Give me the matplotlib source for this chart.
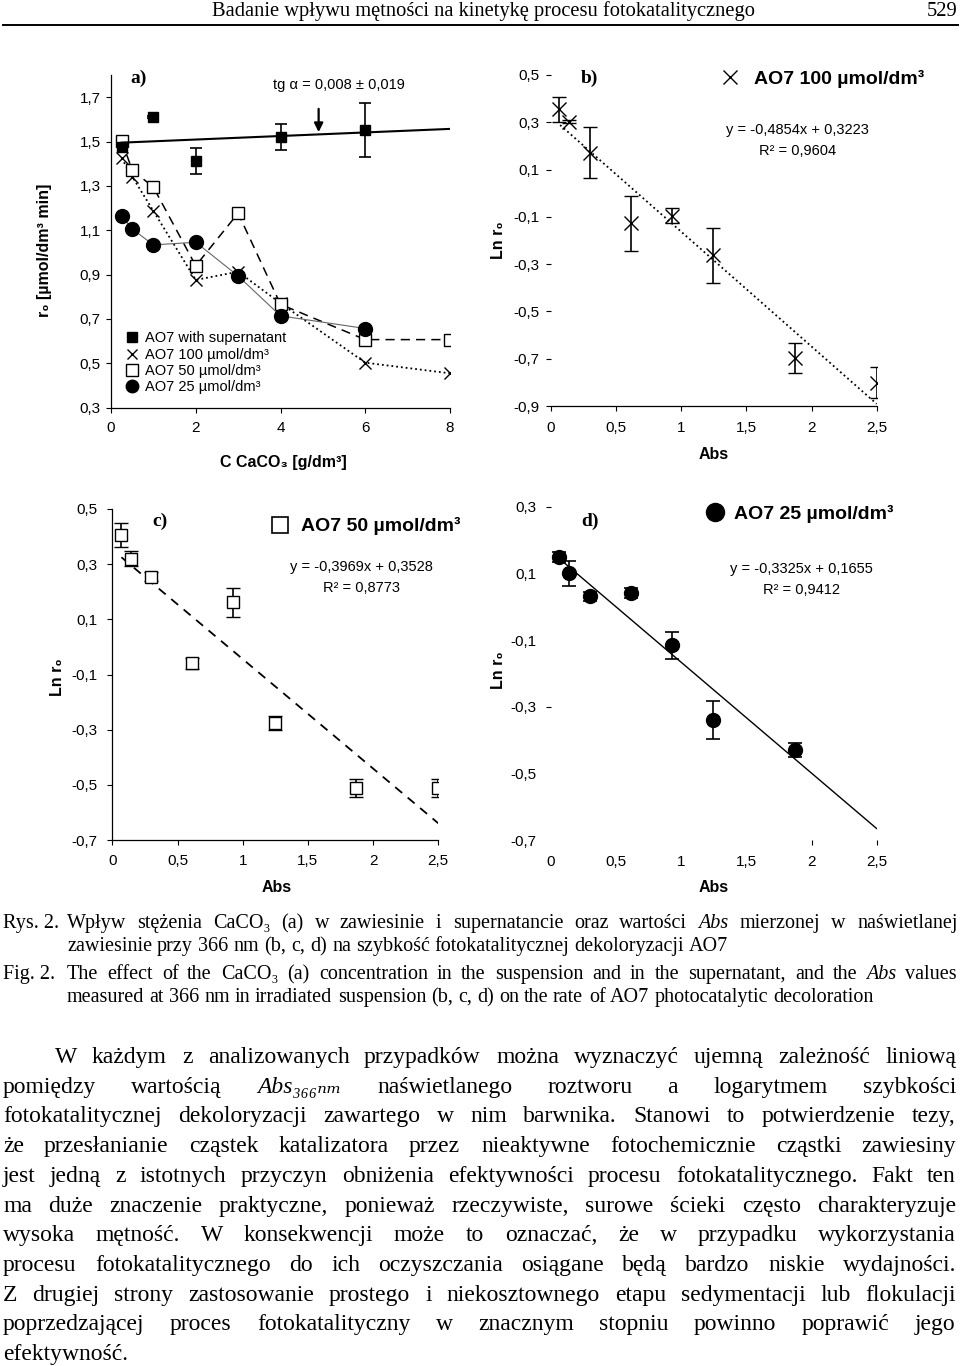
import numpy as np
import matplotlib.pyplot as plt
from matplotlib.lines import Line2D
from matplotlib.ticker import FuncFormatter

W, H = 960, 1366

# ---- panel a: r0 vs CaCO3 concentration ----
c_caco3 = [0.25, 0.5, 1, 2, 3, 4, 6, 8]
r0_100 = [1.425, 1.342, 1.187, 0.876, 0.913, 0.771, 0.503, 0.455]
r0_50 = [1.504, 1.372, 1.294, 0.940, 1.177, 0.766, 0.607, 0.607]
c_caco3_25 = [0.25, 0.5, 1, 2, 3, 4, 6]
r0_25 = [1.165, 1.106, 1.034, 1.046, 0.894, 0.714, 0.657]
c_super = [0.25, 1, 2, 4, 6]
r0_super = [1.477, 1.610, 1.413, 1.520, 1.552]
r0_super_err = [0.0, 0.005, 0.06, 0.06, 0.12]
super_fit = (0.008, 1.493)   # slope, intercept
super_fit_span = (0.25, 8)
arrow_x, arrow_y = 4.9, (1.66, 1.53)

# ---- panels b-d: ln r0 vs Abs ----
abs_vals = [0.065, 0.14, 0.30, 0.615, 0.925, 1.245, 1.87, 2.5]
lnr_b = [0.355, 0.303, 0.172, -0.128, -0.095, -0.262, -0.697, -0.802]
lnr_b_err = [0.052, 0.008, 0.108, 0.115, 0.032, 0.116, 0.062, 0.066]
lnr_c = [0.406, 0.319, 0.255, -0.060, 0.162, -0.276, -0.512, -0.512]
lnr_c_err = [0.043, 0.027, 0.016, 0.020, 0.053, 0.027, 0.033, 0.033]
lnr_d = [0.149, 0.100, 0.031, 0.041, -0.116, -0.340, -0.430]
lnr_d_err = [0.014, 0.038, 0.014, 0.016, 0.041, 0.058, 0.022]
fit_b = (-0.4854, 0.3223, 0.9604)
fit_c = (-0.3969, 0.3528, 0.8773)
fit_d = (-0.3325, 0.1655, 0.9412)
fit_span = (0.07, 2.5)

xticks_a = [0, 2, 4, 6, 8]
yticks_a = np.arange(0.3, 1.71, 0.2)
xticks_abs = np.arange(0, 2.51, 0.5)
yticks_b = np.arange(-0.9, 0.51, 0.2)
yticks_c = np.arange(-0.7, 0.51, 0.2)
yticks_d = np.arange(-0.7, 0.31, 0.2)

header = 'Badanie wpływu mętności na kinetykę procesu fotokatalitycznego'
page_no = '529'
caption = [
    ('Rys. 2.', 'Wpływ stężenia CaCO₃ (a) w zawiesinie i supernatancie oraz wartości *Abs* mierzonej w naświetlanej',
     'zawiesinie przy 366 nm (b, c, d) na szybkość fotokatalitycznej dekoloryzacji AO7'),
    ('Fig. 2.', 'The effect of the CaCO₃ (a) concentration in the suspension and in the supernatant, and the *Abs* values',
     'measured at 366 nm in irradiated suspension (b, c, d) on the rate of AO7 photocatalytic decoloration'),
]
paragraph = [
    'W każdym z analizowanych przypadków można wyznaczyć ujemną zależność liniową',
    'pomiędzy wartością *Abs₃₆₆ₙₘ* naświetlanego roztworu a logarytmem szybkości',
    'fotokatalitycznej dekoloryzacji zawartego w nim barwnika. Stanowi to potwierdzenie tezy,',
    'że przesłanianie cząstek katalizatora przez nieaktywne fotochemicznie cząstki zawiesiny',
    'jest jedną z istotnych przyczyn obniżenia efektywności procesu fotokatalitycznego. Fakt ten',
    'ma duże znaczenie praktyczne, ponieważ rzeczywiste, surowe ścieki często charakteryzuje',
    'wysoka mętność. W konsekwencji może to oznaczać, że w przypadku wykorzystania',
    'procesu fotokatalitycznego do ich oczyszczania osiągane będą bardzo niskie wydajności.',
    'Z drugiej strony zastosowanie prostego i niekosztownego etapu sedymentacji lub flokulacji',
    'poprzedzającej proces fotokatalityczny w znacznym stopniu powinno poprawić jego',
    'efektywność.',
]

plt.rcParams['font.family'] = ['Liberation Sans', 'DejaVu Sans']
serif = ['Liberation Serif', 'DejaVu Serif']

fig = plt.figure(figsize=(W / 100, H / 100), dpi=100)
renderer = fig.canvas.get_renderer()


def fx(x):
    return x / W


def fy(y):
    return 1 - y / H


def add_panel(l, t, r, b):
    return fig.add_axes([l / W, 1 - b / H, (r - l) / W, (b - t) / H])


comma = FuncFormatter(lambda v, p: f'{v:g}'.replace('.', ','))


def make_words(line, base, size):
    arts = []
    for w in line.split(' '):
        it = w.startswith('*')
        arts.append(fig.text(0, fy(base), w.strip('*'), fontsize=size, family=serif,
                             style='italic' if it else 'normal', va='baseline', ha='left'))
    return arts


def fit_size(lines, x0s, x1, size):
    # largest common size at which every line fits with ~normal spaces
    best = size
    for line, x0 in zip(lines, x0s):
        arts = make_words(line, 0, size)
        total = sum(a.get_window_extent(renderer).width for a in arts)
        space = size * 100 / 72 * 0.22 * (len(arts) - 1)
        need = total + space
        for a in arts:
            a.remove()
        if need > x1 - x0:
            best = min(best, size * (x1 - x0) / need)
    return np.floor(best * 2) / 2


def text_line(line, x0, x1, base, size, justify=True):
    base = round(base)   # whole-pixel baseline keeps words on one line
    arts = make_words(line, base, size)
    widths = [a.get_window_extent(renderer).width for a in arts]
    n = len(arts)
    space = size * 100 / 72 * 0.25
    gap = (x1 - x0 - sum(widths)) / (n - 1) if (justify and n > 1) else space
    x = x0
    for a, w in zip(arts, widths):
        a.set_x(fx(round(x)))
        x += w + gap


def style_axis(ax, spines, xpad, ypad):
    for s in ['top', 'right', 'left', 'bottom']:
        ax.spines[s].set_visible(s in spines)
        ax.spines[s].set_linewidth(0.9)
    ax.tick_params(direction='out', length=3.5, width=0.8, labelsize=11)
    ax.tick_params(axis='x', pad=xpad)
    ax.tick_params(axis='y', pad=ypad)
    ax.xaxis.set_major_formatter(comma)
    ax.yaxis.set_major_formatter(comma)
    ax.patch.set_alpha(0)


# ---------------- header ----------------
fig.text(fx(483), fy(16), header, family=serif, fontsize=14.8, ha='center', va='baseline')
fig.text(fx(957), fy(16), page_no, family=serif, fontsize=14.8, ha='right', va='baseline')
fig.add_artist(Line2D([fx(3), fx(958)], [fy(24.5), fy(24.5)], color='black', lw=1.4))

# ---------------- panel a ----------------
ax = add_panel(111, 75, 450, 407.7)
ax.plot(c_caco3, r0_100, ls=':', color='black', lw=1.3, marker='x', ms=8, mew=1.0)
ax.plot(c_caco3, r0_50, ls=(0, (6, 4)), color='black', lw=1.1, marker='s', ms=8,
        mfc='white', mec='black', mew=1.0)
ax.plot(c_caco3_25, r0_25, ls='-', color='#666666', lw=0.8, marker='o', ms=10,
        mfc='black', mec='black')
sx = np.array(super_fit_span)
ax.plot(sx, super_fit[0] * sx + super_fit[1], color='black', lw=1.5)
ax.errorbar(c_super, r0_super, yerr=r0_super_err, fmt='s', color='black', ms=7.5,
            capsize=4, elinewidth=1.2, capthick=1.2)
ax.annotate('', xy=(arrow_x, arrow_y[1]), xytext=(arrow_x, arrow_y[0]),
            arrowprops=dict(arrowstyle='-|>', color='black', lw=1.6, mutation_scale=13))
ax.set_xlim(0, 8)
ax.set_ylim(0.3, 1.8)
ax.set_xticks(xticks_a)
ax.set_yticks(yticks_a)
style_axis(ax, ['left', 'bottom'], 6, 4)
handles = [
    Line2D([], [], ls='none', marker='s', ms=7, color='black'),
    Line2D([], [], ls='none', marker='x', ms=7, color='black', mew=1.0),
    Line2D([], [], ls='none', marker='s', ms=8, mfc='white', mec='black'),
    Line2D([], [], ls='none', marker='o', ms=9, color='black'),
]
labels = ['AO7 with supernatant', 'AO7 100 µmol/dm³', 'AO7 50 µmol/dm³', 'AO7 25 µmol/dm³']
ax.legend(handles, labels, loc='lower left', bbox_to_anchor=(0.045, 0.04), frameon=False,
          fontsize=10.5, handlelength=0.8, handletextpad=0.5, labelspacing=0.16,
          borderpad=0, borderaxespad=0)
ax.text(3.82, 1.755, f'tg α = {super_fit[0]:.3f} ± 0,019'.replace('0.', '0,'),
        fontsize=10.5, ha='left', va='center')
fig.text(fx(130), fy(78), 'a)', family=serif, fontweight='bold', fontsize=14, va='center')
fig.text(fx(45), fy(250), 'r₀ [µmol/dm³ min]', rotation=90, fontweight='bold', fontsize=11.5,
         ha='center', va='center')
fig.text(fx(283), fy(462), 'C CaCO₃ [g/dm³]', fontweight='bold', fontsize=11.5,
         ha='center', va='center')


def eq_text(ax, fit, x, y1, y2):
    m, c, r2 = fit
    s = f'y = {m:.4f}x + {c:.4f}'.replace('.', ',')
    ax.text(x, y1, s, transform=ax.transAxes, ha='center', va='center', fontsize=10.5)
    ax.text(x, y2, f'R² = {r2:.4f}'.replace('.', ','), transform=ax.transAxes,
            ha='center', va='center', fontsize=10.5)


fxs = np.array(fit_span)

# ---------------- panel b ----------------
ax = add_panel(551, 75, 876.7, 406)
ax.plot(fxs, fit_b[0] * fxs + fit_b[1], ls=':', color='black', lw=1.3)
ax.errorbar(abs_vals, lnr_b, yerr=lnr_b_err, fmt='x', color='black', ms=10, mew=1.0,
            capsize=5, elinewidth=1.2, capthick=1.2)
ax.set_xlim(0, 2.5)
ax.set_ylim(-0.9, 0.5)
ax.set_xticks(xticks_abs)
ax.set_yticks(yticks_b)
style_axis(ax, ['bottom'], 7.5, 5)
ax.legend([Line2D([], [], ls='none', marker='x', ms=10, color='black', mew=1.0)],
          ['AO7 100 µmol/dm³'], loc='upper right', bbox_to_anchor=(1.145, 1.015),
          frameon=False, prop={'weight': 'bold', 'size': 14}, handlelength=1.0,
          handletextpad=0.7, borderpad=0, borderaxespad=0)
eq_text(ax, fit_b, 0.758, 0.834, 0.770)
fig.text(fx(581), fy(78), 'b)', family=serif, fontweight='bold', fontsize=14, va='center')
fig.text(fx(498), fy(240), 'Ln r₀', rotation=90, fontweight='bold', fontsize=11.5,
         ha='center', va='center')
fig.text(fx(714), fy(455), 'Abs', fontweight='bold', fontsize=11.5, ha='center', va='center')

# ---------------- panel c ----------------
ax = add_panel(112.3, 509, 438.3, 840)
ax.plot(fxs, fit_c[0] * fxs + fit_c[1], ls=(0, (5, 4)), color='black', lw=1.3)
ax.errorbar(abs_vals, lnr_c, yerr=lnr_c_err, fmt='s', color='black', mfc='white', ms=9,
            mew=1.0, capsize=5, elinewidth=1.2, capthick=1.2)
ax.set_xlim(0, 2.5)
ax.set_ylim(-0.7, 0.5)
ax.set_xticks(xticks_abs)
ax.set_yticks(yticks_c)
style_axis(ax, ['left', 'bottom'], 6.5, 7.5)
ax.legend([Line2D([], [], ls='none', marker='s', ms=12, mfc='white', mec='black', mew=1.2)],
          ['AO7 50 µmol/dm³'], loc='upper right', bbox_to_anchor=(1.068, 0.975),
          frameon=False, prop={'weight': 'bold', 'size': 14}, handlelength=1.0,
          handletextpad=0.6, borderpad=0, borderaxespad=0)
eq_text(ax, fit_c, 0.765, 0.824, 0.760)
fig.text(fx(152), fy(521), 'c)', family=serif, fontweight='bold', fontsize=14, va='center')
fig.text(fx(58), fy(677), 'Ln r₀', rotation=90, fontweight='bold', fontsize=11.5,
         ha='center', va='center')
fig.text(fx(277), fy(888), 'Abs', fontweight='bold', fontsize=11.5, ha='center', va='center')

# ---------------- panel d ----------------
ax = add_panel(551, 506.7, 876.7, 840)
ax.plot(fxs, fit_d[0] * fxs + fit_d[1], ls='-', color='black', lw=1.0)
ax.errorbar(abs_vals[:len(lnr_d)], lnr_d, yerr=lnr_d_err, fmt='o', color='black', ms=10,
            capsize=5, elinewidth=1.2, capthick=1.2)
ax.set_xlim(0, 2.5)
ax.set_ylim(-0.7, 0.3)
ax.set_xticks(xticks_abs)
ax.set_yticks(yticks_d)
style_axis(ax, [], 7, 7)
for t in ax.xaxis.get_major_ticks()[:4]:
    t.tick1line.set_visible(False)
for i, t in enumerate(ax.yaxis.get_major_ticks()):
    if i not in (2, 5):
        t.tick1line.set_visible(False)
ax.legend([Line2D([], [], ls='none', marker='o', ms=13, color='black')],
          ['AO7 25 µmol/dm³'], loc='upper right', bbox_to_anchor=(1.052, 1.005),
          frameon=False, prop={'weight': 'bold', 'size': 14}, handlelength=1.0,
          handletextpad=0.5, borderpad=0, borderaxespad=0)
eq_text(ax, fit_d, 0.77, 0.813, 0.750)
fig.text(fx(581), fy(521), 'd)', family=serif, fontweight='bold', fontsize=14, va='center')
fig.text(fx(498), fy(670), 'Ln r₀', rotation=90, fontweight='bold', fontsize=11.5,
         ha='center', va='center')
fig.text(fx(714), fy(888), 'Abs', fontweight='bold', fontsize=11.5, ha='center', va='center')

# ---------------- caption ----------------
cap_lines = [c[1] for c in caption]
cap_size = fit_size(cap_lines, [67] * len(cap_lines), 957, 14.5)
cap_base = [928, 979]
for (lab, l1, l2), b in zip(caption, cap_base):
    fig.text(fx(3), fy(b), lab, family=serif, fontsize=cap_size, va='baseline', ha='left')
    text_line(l1, 67, 957, b, cap_size, justify=True)
    text_line(l2, 67, 957, b + 23, cap_size, justify=False)

# ---------------- paragraph ----------------
x0s = [55] + [3] * (len(paragraph) - 1)
par_size = fit_size(paragraph[:-1], x0s[:-1], 956, 17)
for i, line in enumerate(paragraph):
    base = 1063 + i * 29.7
    text_line(line, x0s[i], 956, base, par_size, justify=(i < len(paragraph) - 1))

fig.savefig('out.png', dpi=100, facecolor='white')
